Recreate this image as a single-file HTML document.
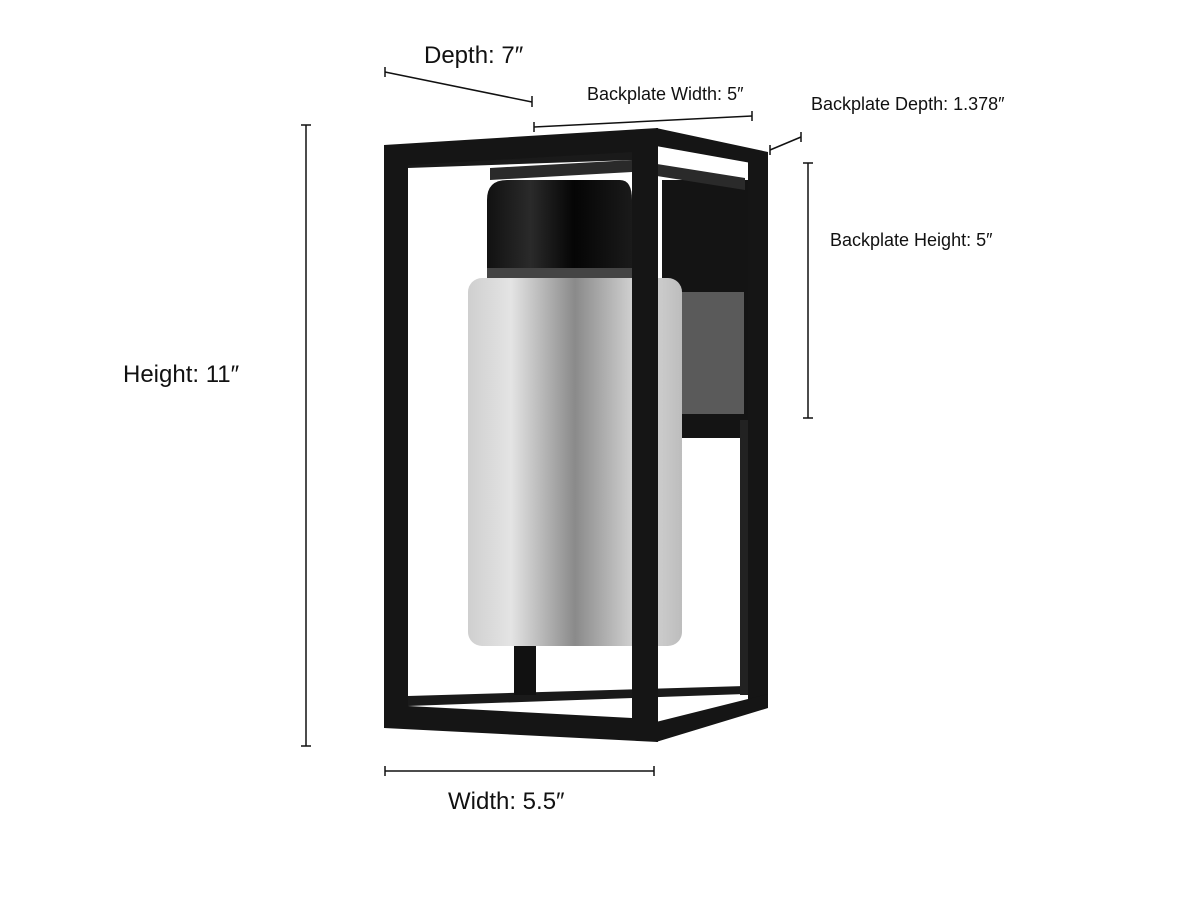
<!DOCTYPE html>
<html><head><style>html,body{margin:0;padding:0;background:#fff}svg{display:block}text{font-family:"Liberation Sans",sans-serif;fill:#111}</style></head>
<body>
<svg width="1200" height="900" viewBox="0 0 1200 900" xmlns="http://www.w3.org/2000/svg">
<defs>
<linearGradient id="g" x1="0" x2="1">
<stop offset="0" stop-color="#cfcfcf"/><stop offset="0.2" stop-color="#e4e4e4"/><stop offset="0.5" stop-color="#8a8a8a"/><stop offset="0.8" stop-color="#d8d8d8"/><stop offset="1" stop-color="#bdbdbd"/>
</linearGradient>
<linearGradient id="c" x1="0" x2="1">
<stop offset="0" stop-color="#111"/><stop offset="0.3" stop-color="#2a2a2a"/><stop offset="0.6" stop-color="#050505"/><stop offset="1" stop-color="#1a1a1a"/>
</linearGradient>
</defs>
<!-- backplate -->
<rect x="662" y="180" width="106" height="258" fill="#141414"/>
<rect x="682" y="292" width="62" height="122" fill="#5a5a5a"/>
<!-- back rails -->
<polygon points="408,155 632,150 632,160 408,168" fill="#1a1a1a"/>
<polygon points="490,168 632,160 745,178 745,190 632,172 490,180" fill="#2a2a2a"/>
<polygon points="408,696 745,686 745,694 408,706" fill="#1a1a1a"/>
<rect x="514" y="645" width="22" height="50" fill="#111"/>
<rect x="740" y="420" width="8" height="275" fill="#222"/>
<!-- cap -->
<path d="M487,200 Q487,180 507,180 L620,180 Q632,180 632,200 L632,276 L487,276 Z" fill="url(#c)"/>
<rect x="487" y="268" width="145" height="10" fill="#444"/>
<!-- glass -->
<rect x="468" y="278" width="214" height="368" rx="14" fill="url(#g)"/>
<!-- front frame -->
<path fill-rule="evenodd" fill="#151515" d="M384,145 L658,128 L658,742 L384,728 Z M408,165 L632,152 L632,718 L408,706 Z"/>
<!-- side -->
<polygon points="656,128 768,152 768,166 656,146" fill="#151515"/>
<rect x="748" y="158" width="20" height="548" fill="#151515"/>
<polygon points="656,722 768,694 768,708 656,742" fill="#151515"/>
<!-- dimension lines -->
<g stroke="#111" stroke-width="1.5">
<line x1="385" y1="72" x2="532" y2="102"/><line x1="385" y1="67" x2="385" y2="77"/><line x1="532" y1="96" x2="532" y2="107"/>
<line x1="534" y1="127" x2="752" y2="116"/><line x1="534" y1="122" x2="534" y2="132"/><line x1="752" y1="111" x2="752" y2="121"/>
<line x1="770" y1="150" x2="801" y2="137"/><line x1="770" y1="145" x2="770" y2="155"/><line x1="801" y1="132" x2="801" y2="142"/>
<line x1="808" y1="163" x2="808" y2="418"/><line x1="803" y1="163" x2="813" y2="163"/><line x1="803" y1="418" x2="813" y2="418"/>
<line x1="306" y1="125" x2="306" y2="746"/><line x1="301" y1="125" x2="311" y2="125"/><line x1="301" y1="746" x2="311" y2="746"/>
<line x1="385" y1="771" x2="654" y2="771"/><line x1="385" y1="766" x2="385" y2="776"/><line x1="654" y1="766" x2="654" y2="776"/>
</g>
<text x="424" y="63" font-size="24">Depth: 7″</text>
<text x="587" y="100" font-size="18">Backplate Width: 5″</text>
<text x="811" y="110" font-size="18">Backplate Depth: 1.378″</text>
<text x="830" y="246" font-size="18">Backplate Height: 5″</text>
<text x="123" y="382" font-size="24">Height: 11″</text>
<text x="448" y="809" font-size="24">Width: 5.5″</text>
</svg>
</body></html>
